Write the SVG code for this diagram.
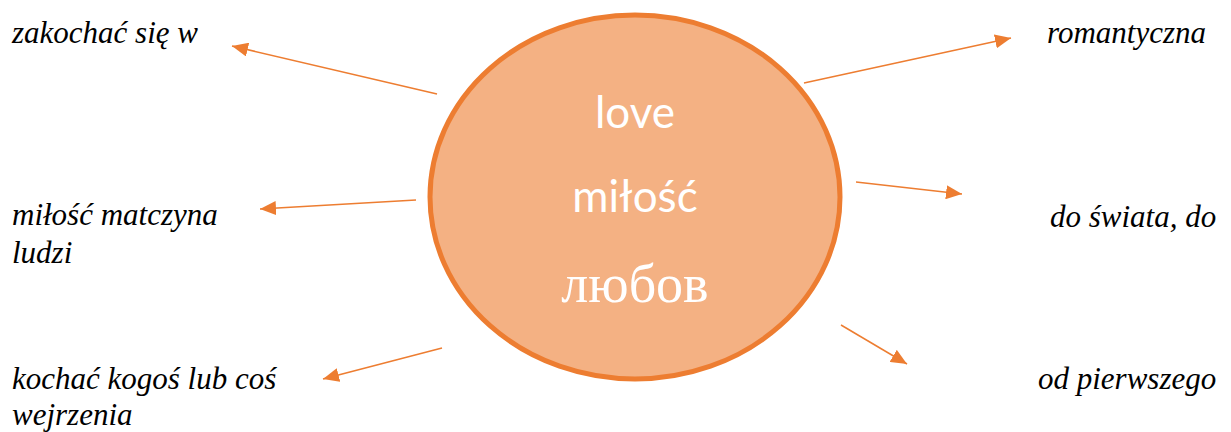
<svg xmlns="http://www.w3.org/2000/svg" width="1231" height="432" viewBox="0 0 1231 432">
<style>
.lbl{font-family:"Liberation Serif","Times New Roman",serif;font-style:italic;font-size:31px;fill:#000}
.c{stroke:#ED7D31;stroke-width:1.5;fill:none;marker-end:url(#ah)}
.ctr{font-family:Lato,"Noto Sans",sans-serif;font-size:44px;fill:#fff;text-anchor:middle}
</style>
<defs>
<marker id="ah" markerUnits="userSpaceOnUse" markerWidth="17" markerHeight="14" refX="16" refY="7" orient="auto">
<path d="M0,0 L16,7 L0,14 z" fill="#ED7D31"/>
</marker>
</defs>
<rect width="1231" height="432" fill="#fff"/>
<g id="center">
<ellipse cx="635" cy="197" rx="205" ry="182" fill="#F4B183" stroke="#ED7D31" stroke-width="5"/>
<text class="ctr" x="635" y="128">love</text>
<text class="ctr" x="635" y="212">miłość</text>
<text x="635" y="302" font-family="Liberation Serif, Times New Roman, serif" font-size="54" fill="#fff" text-anchor="middle">любов</text>
</g>
<g id="connectors">
<line class="c" x1="437" y1="94" x2="232" y2="46"/>
<line class="c" x1="804" y1="83" x2="1011" y2="38"/>
<line class="c" x1="416" y1="200" x2="260" y2="209"/>
<line class="c" x1="856" y1="182" x2="962" y2="194"/>
<line class="c" x1="442" y1="348" x2="323" y2="379"/>
<line class="c" x1="841" y1="325" x2="907" y2="364"/>
</g>
<g id="n1"><text class="lbl" x="12" y="43">zakochać się w</text></g>
<g id="n2"><text class="lbl" x="1047" y="43">romantyczna</text></g>
<g id="n3"><text class="lbl" x="12" y="225">miłość matczyna</text><text class="lbl" x="12" y="263">ludzi</text></g>
<g id="n4"><text class="lbl" x="1050" y="227">do świata, do</text></g>
<g id="n5"><text class="lbl" x="12" y="389">kochać kogoś lub coś</text><text class="lbl" x="12" y="425">wejrzenia</text></g>
<g id="n6"><text class="lbl" x="1038" y="389">od pierwszego</text></g>
</svg>
